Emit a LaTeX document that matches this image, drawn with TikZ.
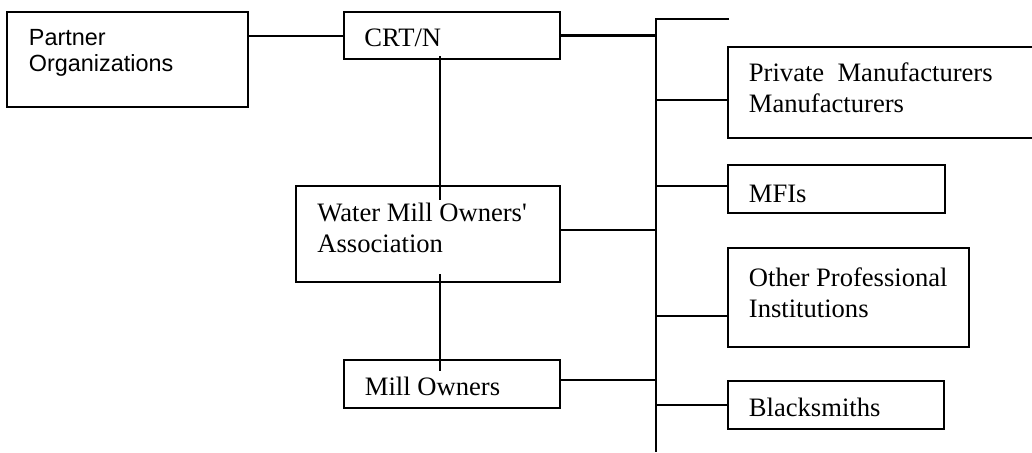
\documentclass[tikz,border=0pt]{standalone}
\usepackage{fontspec}
\setmainfont{Liberation Serif}
\newfontfamily\arialfont{Liberation Sans}

\begin{document}
\begin{tikzpicture}[x=0.5pt, y=-0.5pt,
    orgbox/.style={draw, line width=0.9pt, anchor=north west, inner sep=0pt, outer sep=0pt},
    boxtext/.style={anchor=north west, inner sep=0pt, align=left,
      font=\fontsize{13.3}{15.4}\selectfont},
    link/.style={line width=1pt},
    bus/.style={line width=1.4pt}
  ]
    \useasboundingbox (0,0) rectangle (1032,452);

    % the boxes
    \node [orgbox, minimum width=120.5pt, minimum height=47.5pt] (partner) at (7,12) {};
    \node [orgbox, minimum width=108pt, minimum height=23.5pt] (crt) at (344,12) {};
    \node [orgbox, minimum width=132pt, minimum height=48pt] (wmoa) at (296,186) {};
    \node [orgbox, minimum width=108pt, minimum height=24pt] (mill) at (344,360) {};
    \node [orgbox, minimum width=154pt, minimum height=45.5pt] (private) at (728,47) {};
    \node [orgbox, minimum width=108.5pt, minimum height=24pt] (mfi) at (728,165) {};
    \node [orgbox, minimum width=120.5pt, minimum height=49.5pt] (other) at (728,248) {};
    \node [orgbox, minimum width=108pt, minimum height=24pt] (black) at (728,381) {};

    % their texts
    \node [boxtext, font=\arialfont\fontsize{11.7}{13}\selectfont] (partner-text) at (28.5,29) {Partner\\Organizations};
    \node [boxtext] (crt-text) at (364,28.5) {CRT/N};
    \node [boxtext] (wmoa-text) at (317,202.5) {Water Mill Owners\textquotesingle\\Association};
    \node [boxtext] (mill-text) at (364.5,376.5) {Mill Owners};
    \node [boxtext] (private-text) at (748.5,62.5) {Private\ \ Manufacturers\\Manufacturers};
    \node [boxtext] (mfi-text) at (748.5,184.5) {MFIs};
    \node [boxtext] (other-text) at (748.5,267.5) {Other Professional\\Institutions};
    \node [boxtext] (black-text) at (748.5,397.5) {Blacksmiths};

    % the bus on the right
    \coordinate (bustop) at (656,19);
    \coordinate (busend) at (656,452);
    \coordinate (stub) at (729,19);
    \draw [bus] (stub) -- (bustop) -- (busend);

    % links
    \draw [link] (crt.west) -- (crt.west -| partner.east);
    \draw [bus] (crt.east) -- (crt.east -| bustop);
    \draw [link] ([xshift=-6pt,yshift=1.5pt]crt.south) -- ([xshift=6pt,yshift=-7pt]wmoa.north);
    \draw [link] ([xshift=6pt,yshift=4pt]wmoa.south) -- ([xshift=-6pt,yshift=-5.5pt]mill.north);

    \coordinate (wmoa-out) at ([yshift=2pt]wmoa.east);
    \coordinate (mill-out) at ([yshift=2pt]mill.east);
    \draw [link] (wmoa-out) -- (wmoa-out -| bustop);
    \draw [link] (mill-out) -- (mill-out -| bustop);

    \coordinate (private-in) at ([yshift=-3.75pt]private.west);
    \coordinate (mfi-in) at ([yshift=1.5pt]mfi.west);
    \coordinate (other-in) at ([yshift=-9.25pt]other.west);
    \draw [link] (private-in) -- (private-in -| bustop);
    \draw [link] (mfi-in) -- (mfi-in -| bustop);
    \draw [link] (other-in) -- (other-in -| bustop);
    \draw [link] (black.west) -- (black.west -| bustop);
  \end{tikzpicture}
\end{document}
